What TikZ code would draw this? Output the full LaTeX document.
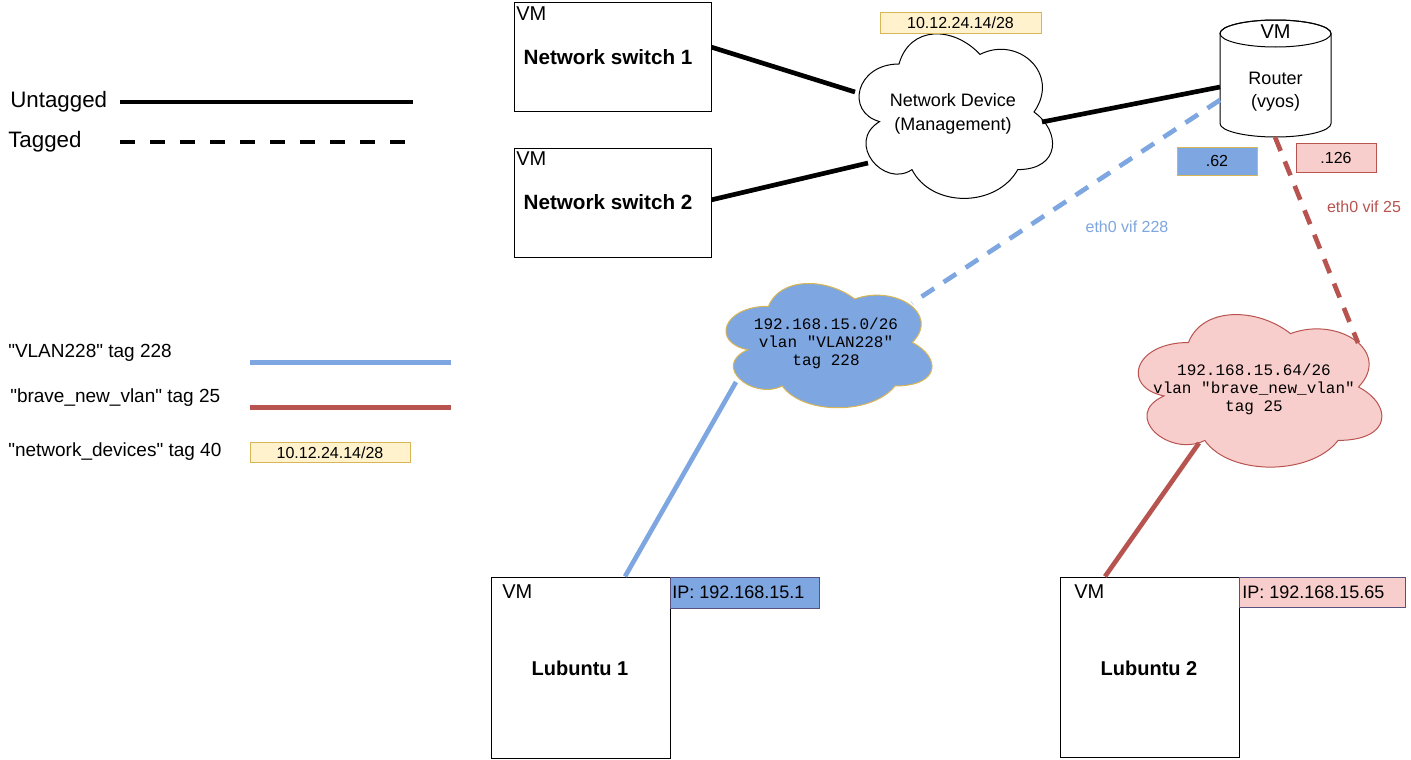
\documentclass[tikz,border=0pt]{standalone}
\usepackage{fontspec}
\setmainfont{Liberation Sans}
\setmonofont{Liberation Mono}
\usetikzlibrary{calc}
\definecolor{mxblue}{HTML}{7EA6E0}
\definecolor{mxpink}{HTML}{F8CECC}
\definecolor{mxred}{HTML}{B85450}
\definecolor{mxyellow}{HTML}{FFF2CC}
\definecolor{mxyborder}{HTML}{D6B656}
\definecolor{mxnavy}{HTML}{56517E}
\tikzset{
  vmbox/.style={draw=black, line width=0.75pt, fill=white, rectangle, inner sep=0pt},
  tagbox/.style={rectangle, line width=0.75pt, inner sep=0pt, font=\fontsize{12pt}{14pt}\selectfont},
  iptext/.style={anchor=west, inner sep=0pt, font=\fontsize{13.5pt}{16pt}\selectfont},
  vmtext/.style={anchor=west, inner sep=0pt, font=\fontsize{15pt}{18pt}\selectfont},
  boldlabel/.style={inner sep=0pt, font=\fontsize{15.5pt}{18pt}\selectfont\bfseries},
  legtext/.style={anchor=west, inner sep=0pt, font=\fontsize{14.25pt}{17pt}\selectfont},
  bigleg/.style={anchor=west, inner sep=0pt, font=\fontsize{16.75pt}{20pt}\selectfont},
  monotext/.style={align=center, inner sep=0pt, font=\fontsize{12pt}{13.5pt}\selectfont\ttfamily},
  untagged/.style={line width=3.5pt},
  tagged/.style={line width=3.5pt, dash pattern=on 11.25pt off 8.5pt},
  smalltext/.style={inner sep=0pt, font=\fontsize{12pt}{14pt}\selectfont},
}
\newcommand\mxcloudpath{(0.25,0.25) .. controls (0.05,0.25) and (0,0.5) .. (0.16,0.55)
  .. controls (0,0.66) and (0.18,0.9) .. (0.31,0.8)
  .. controls (0.4,1) and (0.7,1) .. (0.8,0.8)
  .. controls (1,0.8) and (1,0.6) .. (0.875,0.5)
  .. controls (1,0.3) and (0.8,0.1) .. (0.625,0.2)
  .. controls (0.5,0.05) and (0.3,0.05) .. (0.25,0.25) -- cycle}
\begin{document}
\begin{tikzpicture}[x=0.75pt, y=-0.75pt]
\useasboundingbox (0,0) rectangle (1411,760);
\fill[white] (0,0) rectangle (1411,760);

% ---------- legend ----------
\node[bigleg] (lunt) at (10,102) {Untagged};
\node[bigleg] (ltag) at (8,142) {Tagged};
\coordinate (lu1) at (120,102); \coordinate (lu2) at (413,102);
\coordinate (lt1) at (120,142); \coordinate (lt2) at (405,142);
\draw[untagged] (lu1) -- (lu2);
\draw[untagged, dash pattern=on 11.25pt off 11.25pt] (lt1) -- (lt2);

\node[legtext] (lv228) at (8,353) {\textquotedbl VLAN228\textquotedbl\ tag 228};
\node[legtext] (lbnv) at (10,398) {\textquotedbl brave\_new\_vlan\textquotedbl\ tag 25};
\node[legtext] (lnd) at (8,452) {\textquotedbl network\_devices\textquotedbl\ tag 40};
\coordinate (lb1) at (250,362); \coordinate (lb2) at (451,362);
\coordinate (lr1) at (250,407); \coordinate (lr2) at (451,407);
\draw[mxblue, line width=3.75pt] (lb1) -- (lb2);
\draw[mxred, line width=3.75pt] (lr1) -- (lr2);
\node[tagbox, draw=mxyborder, fill=mxyellow, minimum width=120pt, minimum height=15pt] (lyel) at (330,452.5) {10.12.24.14/28};

% ---------- clouds ----------
\begin{scope}[shift={(845,16)}, xscale=216, yscale=192]
  \draw[line width=0.75pt, fill=white] \mxcloudpath;
\end{scope}
\begin{scope}[shift={(711,270)}, xscale=230, yscale=145]
  \draw[line width=0.75pt, draw=mxyborder, fill=mxblue] \mxcloudpath;
\end{scope}
\begin{scope}[shift={(1120.5,298)}, xscale=272, yscale=178]
  \draw[line width=0.75pt, draw=mxred, fill=mxpink] \mxcloudpath;
\end{scope}
\node[align=center, inner sep=0pt, font=\fontsize{13.5pt}{17.5pt}\selectfont] (nd) at (953,114) {Network Device\\(Management)};
\node[monotext] (c228) at (826,343) {192.168.15.0/26\\vlan "VLAN228"\\tag 228};
\node[monotext] (c25) at (1254,389) {192.168.15.64/26\\vlan "brave\_new\_vlan"\\tag 25};

\node[tagbox, draw=mxyborder, fill=mxyellow, minimum width=120.75pt, minimum height=15.75pt] (ylab) at (960.5,22.5) {10.12.24.14/28};

% ---------- switches ----------
\node[vmbox, minimum width=147.75pt, minimum height=81.75pt] (sw1) at (612.5,56.5) {};
\node[vmtext] (sw1vm) at (516,14) {VM};
\node[boldlabel] (sw1t) at (608,57) {Network switch 1};
\node[vmbox, minimum width=147.75pt, minimum height=81.75pt] (sw2) at (612.5,202.5) {};
\node[vmtext] (sw2vm) at (516,159) {VM};
\node[boldlabel] (sw2t) at (608,202) {Network switch 2};

% ---------- router ----------
\draw[line width=0.75pt, fill=white] (1220,33.5) -- (1220,123.5)
  arc[start angle=180, end angle=0, x radius=55.5, y radius=13.5] -- (1331,33.5)
  arc[start angle=0, end angle=-180, x radius=55.5, y radius=13.5] -- cycle;
\draw[line width=0.75pt] (1275.5,33.5) ellipse [x radius=55.5, y radius=13.5];
\node[inner sep=0pt, font=\fontsize{15pt}{18pt}\selectfont] (rvm) at (1275.5,32) {VM};
\node[align=center, inner sep=0pt, font=\fontsize{13.5pt}{17pt}\selectfont] (router) at (1275.5,92) {Router\\(vyos)};

\node[tagbox, draw=mxyborder, fill=mxblue, minimum width=60pt, minimum height=21pt] (b62) at (1217,161) {.62};
\node[tagbox, draw=mxred, fill=mxpink, minimum width=60pt, minimum height=21.75pt] (p126) at (1336,157.5) {.126};
\node[smalltext, text=mxblue] (e228) at (1127,227) {eth0 vif 228};
\node[smalltext, text=mxred] (e25) at (1364,207) {eth0 vif 25};

% ---------- lubuntu ----------
\node[vmbox, minimum width=134.25pt, minimum height=135.75pt] (lub1) at (580.5,667.5) {};
\node[vmtext] (lub1vm) at (502,592) {VM};
\node[boldlabel, font=\fontsize{15pt}{18pt}\selectfont\bfseries] (lub1t) at (580,668) {Lubuntu 1};
\node[rectangle, draw=mxnavy, fill=mxblue, line width=0.75pt, minimum width=111.75pt, minimum height=23.25pt, inner sep=0pt] (ip1) at (744.5,592.5) {};
\node[iptext] (ip1t) at (672,592.5) {IP: 192.168.15.1};

\node[vmbox, minimum width=134.25pt, minimum height=135pt] (lub2) at (1149.5,667) {};
\node[vmtext] (lub2vm) at (1074,592) {VM};
\node[boldlabel, font=\fontsize{15pt}{18pt}\selectfont\bfseries] (lub2t) at (1149,668) {Lubuntu 2};
\node[rectangle, draw=mxnavy, fill=mxpink, line width=0.75pt, minimum width=124.5pt, minimum height=22.5pt, inner sep=0pt] (ip2) at (1322,592) {};
\node[iptext] (ip2t) at (1242,592) {IP: 192.168.15.65};

% ---------- connector end points ----------
\coordinate (ndw1) at (855,92);
\coordinate (ndw2) at (868,163);
\coordinate (nde) at (1042,122);
\coordinate (rw1) at (1220,87);
\coordinate (rw2) at (1220,100);
\coordinate (rs) at (1275,137);
\coordinate (c228ne) at (912,303);
\coordinate (c228sw) at (736,382);
\coordinate (c25ne) at (1358,343);
\coordinate (c25sw) at (1199,443);

% ---------- connectors ----------
\draw[untagged] ([yshift=7pt]sw1.east) -- (ndw1);
\draw[untagged] ([yshift=2pt]sw2.east) -- (ndw2);
\draw[untagged] (nde) -- (rw1);
\draw[tagged, mxblue] (rw2) -- (c228ne);
\draw[tagged, mxred] (rs) -- (c25ne);
\draw[untagged, mxblue] (c228sw) -- ([xshift=33.4pt]lub1.north);
\draw[untagged, mxred] (c25sw) -- ([xshift=-33.4pt]lub2.north);
\end{tikzpicture}
\end{document}
